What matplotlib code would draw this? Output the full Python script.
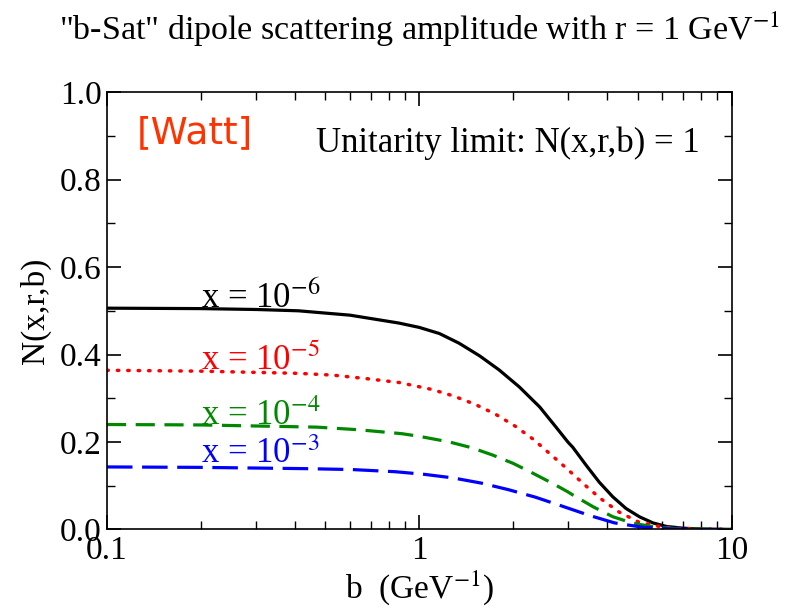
import numpy as np
import matplotlib
matplotlib.use('Agg')
import matplotlib.pyplot as plt
from matplotlib.ticker import FixedLocator, NullFormatter

plt.rcParams['font.family'] = ['Liberation Serif', 'DejaVu Serif']
plt.rcParams['mathtext.fontset'] = 'stix'

# values
b_6 = [0.1, 0.2, 0.3, 0.41, 0.6, 0.86, 1.0, 1.16, 1.34, 1.56, 1.80, 2.09, 2.43, 2.74, 2.99, 3.1,
       3.42, 3.77, 4.16, 4.59, 5.07, 5.6, 6.18, 6.97, 8, 10]
n_6 = [0.506, 0.505, 0.503, 0.500, 0.490, 0.472, 0.462, 0.448, 0.426, 0.397, 0.365, 0.326, 0.280, 0.234, 0.200, 0.188,
       0.147, 0.108, 0.075, 0.048, 0.029, 0.015, 0.007, 0.003, 0.001, 0.0]

b_5 = [0.1, 0.2, 0.41, 0.527, 0.675, 0.863, 1.10, 1.29, 1.51, 1.75, 2.03, 2.32, 2.61, 2.97, 3.36, 3.8,
       4.36, 5.04, 5.96, 7, 10]
n_5 = [0.364, 0.362, 0.357, 0.353, 0.345, 0.336, 0.320, 0.305, 0.286, 0.264, 0.236, 0.206, 0.174, 0.139, 0.104, 0.071,
       0.040, 0.017, 0.006, 0.002, 0.0]

b_4 = [0.1, 0.2, 0.47, 0.64, 0.88, 1.0, 1.25, 1.47, 1.72, 2.0, 2.32, 2.71, 2.99, 3.1, 3.6, 4.17, 4.85, 5.74, 7, 10]
n_4 = [0.240, 0.239, 0.234, 0.228, 0.219, 0.213, 0.200, 0.187, 0.170, 0.151, 0.128, 0.103, 0.086, 0.079, 0.052, 0.029,
       0.014, 0.005, 0.001, 0.0]

b_3 = [0.1, 0.2, 0.44, 0.61, 0.84, 1.04, 1.28, 1.58, 1.93, 2.35, 2.85, 3.51, 4.22, 5.2, 6.5, 8, 10]
n_3 = [0.143, 0.142, 0.139, 0.137, 0.132, 0.126, 0.118, 0.106, 0.091, 0.074, 0.054, 0.032, 0.015, 0.005, 0.001, 0.0, 0.0]

labels = [r'x = 10$^{-6}$', r'x = 10$^{-5}$', r'x = 10$^{-4}$', r'x = 10$^{-3}$']
label_y = [0.506, 0.364, 0.238, 0.151]
cols = ['black', '#ff0000', '#008800', '#0000ff']

fig = plt.figure(figsize=(8.04, 6.10), dpi=100)
ax = fig.add_axes([0.133, 0.132, 0.777, 0.717])

ax.plot(b_6, n_6, color=cols[0], lw=2.3)
ax.plot(b_5, n_5, color=cols[1], lw=2.5, linestyle=(0, (0.4, 2.6)), dash_capstyle='round')
ax.plot(b_4, n_4, color=cols[2], lw=2.3, linestyle=(0, (6, 3)))
ax.plot(b_3, n_3, color=cols[3], lw=2.3, linestyle=(0, (8, 3)))

for lab, yy, c in zip(labels, label_y, cols):
    ax.text(0.2, yy, lab, color=c, fontsize=25, va='baseline', ha='left')

ax.set_xscale('log')
ax.set_xlim(0.1, 10)
ax.set_ylim(0, 1.0)
ax.set_xticks([0.1, 1, 10])
ax.set_xticklabels(['0.1', '1', '10'])
ax.xaxis.set_minor_locator(FixedLocator([k * 10.0**e for e in (-1, 0) for k in range(2, 10)]))
ax.xaxis.set_minor_formatter(NullFormatter())
ax.set_yticks([0, 0.2, 0.4, 0.6, 0.8, 1.0])
ax.set_yticklabels(['0.0', '0.2', '0.4', '0.6', '0.8', '1.0'])
ax.set_yticks([0.1, 0.3, 0.5, 0.7, 0.9], minor=True)
ax.tick_params(which='both', direction='in', top=True, right=True, labelsize=24, pad=4)
ax.tick_params(which='major', length=10, width=1.2)
ax.tick_params(which='minor', length=6, width=1)
for s in ax.spines.values():
    s.set_linewidth(1.2)

ax.set_xlabel(r'b  (GeV$^{-1}$)', fontsize=24, labelpad=2)
ax.set_ylabel('N(x,r,b)', fontsize=24, labelpad=6)
fig.text(0.522, 0.935, r'"b-Sat" dipole scattering amplitude with r = 1 GeV$^{-1}$',
         fontsize=24.5, ha='center', va='baseline')

ax.text(0.048, 0.883, '[Watt]', transform=ax.transAxes, color='#ff3300', fontsize=27,
        family='DejaVu Sans', ha='left', va='baseline')
ax.text(0.949, 0.862, 'Unitarity limit: N(x,r,b) = 1', transform=ax.transAxes, fontsize=25,
        ha='right', va='baseline')

fig.savefig('out.png', dpi=100)
